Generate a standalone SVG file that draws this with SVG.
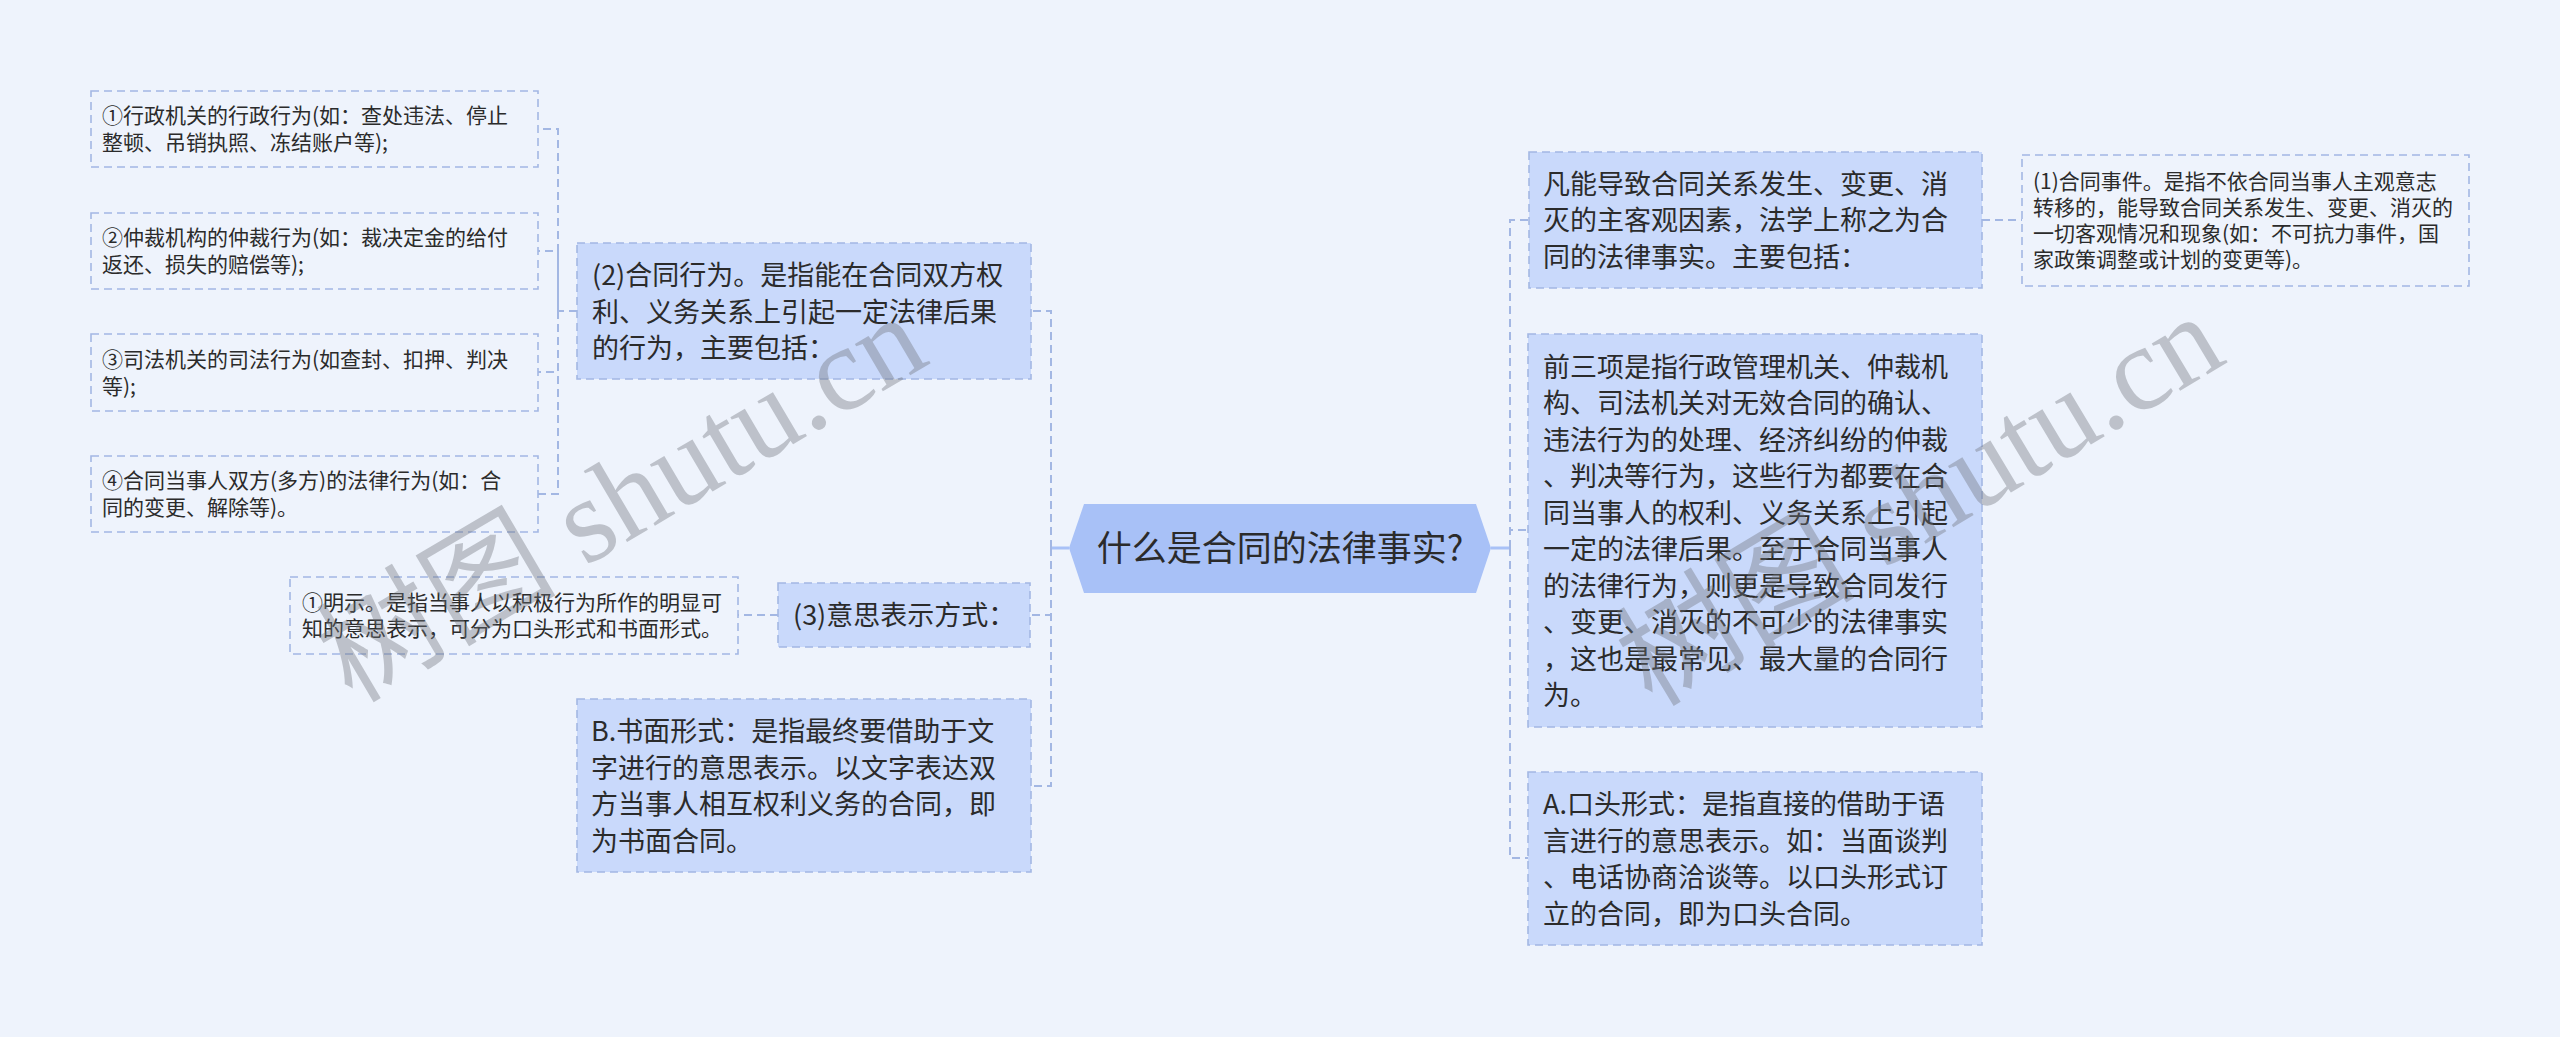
<svg xmlns="http://www.w3.org/2000/svg" width="2560" height="1037" viewBox="0 0 2560 1037">
<style>
.bg{fill:#eef3fc}
.box{fill:#c9d9fb;stroke:#a3b7e3;stroke-width:1.6;stroke-dasharray:8 5}
.leaf{fill:none;stroke:#a3b7e3;stroke-width:1.6;stroke-dasharray:8 5}
.con{fill:none;stroke:#a3b7e3;stroke-width:2;stroke-dasharray:8 5}
.solid{fill:none;stroke:#a8c1f7;stroke-width:3}
.t{font-family:"Noto Sans CJK SC","Noto Sans",sans-serif;fill:#2b2b2b}
.lg{font-size:27px}
.sm{font-size:21px}
.wm{font-family:"Liberation Serif","Noto Sans CJK SC",serif;font-size:120px;fill:#6e727a;opacity:0.38}
</style>
<rect class="bg" x="0" y="0" width="2560" height="1037"/>

<g id="connectors">
  <path class="solid" d="M1069 548 H1051"/>
  <path class="con" d="M1051 548 V311 H1031"/>
  <path class="con" d="M1051 548 V615 H1030"/>
  <path class="con" d="M1051 548 V786 H1031"/>
  <path class="con" d="M577 311 H558 V129 H538"/>
  <path class="con" d="M558 311 V251 H538"/>
  <path class="con" d="M558 311 V372 H538"/>
  <path class="con" d="M558 311 V494 H538"/>
  <path class="con" d="M778 615 H738"/>
  <path class="solid" d="M1491 548 H1510"/>
  <path class="con" d="M1510 548 V220 H1529"/>
  <path class="con" d="M1510 548 V530 H1528"/>
  <path class="con" d="M1510 548 V858 H1528"/>
  <path class="con" d="M1982 220 H2022"/>
</g>

<g id="root">
  <polygon points="1069,548 1084,504 1476,504 1491,548 1476,593 1084,593" fill="#a8c1f7"/>
  <text class="t" x="1280" y="561" font-size="35" text-anchor="middle">什么是合同的法律事实?</text>
</g>

<g id="n-hetong-xingwei">
  <rect class="box" x="577" y="243" width="454" height="136"/>
  <text class="t lg" x="592" y="285">(2)合同行为。是指能在合同双方权</text>
  <text class="t lg" x="592" y="321.5">利、义务关系上引起一定法律后果</text>
  <text class="t lg" x="592" y="358">的行为，主要包括：</text>
</g>

<g id="n-xingzheng">
  <rect class="leaf" x="91" y="91" width="447" height="76"/>
  <text class="t sm" x="102" y="123">①行政机关的行政行为(如：查处违法、停止</text>
  <text class="t sm" x="102" y="150">整顿、吊销执照、冻结账户等);</text>
</g>
<g id="n-zhongcai">
  <rect class="leaf" x="91" y="213" width="447" height="76"/>
  <text class="t sm" x="102" y="245">②仲裁机构的仲裁行为(如：裁决定金的给付</text>
  <text class="t sm" x="102" y="272">返还、损失的赔偿等);</text>
</g>
<g id="n-sifa">
  <rect class="leaf" x="91" y="334" width="447" height="77"/>
  <text class="t sm" x="102" y="366.5">③司法机关的司法行为(如查封、扣押、判决</text>
  <text class="t sm" x="102" y="393.5">等);</text>
</g>
<g id="n-dangshiren">
  <rect class="leaf" x="91" y="456" width="447" height="76"/>
  <text class="t sm" x="102" y="488">④合同当事人双方(多方)的法律行为(如：合</text>
  <text class="t sm" x="102" y="515">同的变更、解除等)。</text>
</g>

<g id="n-yisi">
  <rect class="box" x="778" y="583" width="252" height="64"/>
  <text class="t lg" x="793" y="625">(3)意思表示方式：</text>
</g>
<g id="n-mingshi">
  <rect class="leaf" x="290" y="577" width="448" height="77"/>
  <text class="t sm" x="302" y="610">①明示。是指当事人以积极行为所作的明显可</text>
  <text class="t sm" x="302" y="636">知的意思表示，可分为口头形式和书面形式。</text>
</g>

<g id="n-shumian">
  <rect class="box" x="577" y="699" width="454" height="173"/>
  <text class="t lg" x="591" y="741">B.书面形式：是指最终要借助于文</text>
  <text class="t lg" x="591" y="777.5">字进行的意思表示。以文字表达双</text>
  <text class="t lg" x="591" y="814">方当事人相互权利义务的合同，即</text>
  <text class="t lg" x="591" y="850.5">为书面合同。</text>
</g>

<g id="n-fanneng">
  <rect class="box" x="1529" y="152" width="453" height="136"/>
  <text class="t lg" x="1543" y="193.5">凡能导致合同关系发生、变更、消</text>
  <text class="t lg" x="1543" y="230">灭的主客观因素，法学上称之为合</text>
  <text class="t lg" x="1543" y="266.5">同的法律事实。主要包括：</text>
</g>
<g id="n-shijian">
  <rect class="leaf" x="2022" y="155" width="447" height="131"/>
  <text class="t sm" x="2033" y="189">(1)合同事件。是指不依合同当事人主观意志</text>
  <text class="t sm" x="2033" y="215">转移的，能导致合同关系发生、变更、消灭的</text>
  <text class="t sm" x="2033" y="241">一切客观情况和现象(如：不可抗力事件，国</text>
  <text class="t sm" x="2033" y="267">家政策调整或计划的变更等)。</text>
</g>

<g id="n-qiansanxiang">
  <rect class="box" x="1528" y="334" width="454" height="393"/>
  <text class="t lg" x="1543" y="376.5">前三项是指行政管理机关、仲裁机</text>
  <text class="t lg" x="1543" y="413">构、司法机关对无效合同的确认、</text>
  <text class="t lg" x="1543" y="449.5">违法行为的处理、经济纠纷的仲裁</text>
  <text class="t lg" x="1543" y="486">、判决等行为，这些行为都要在合</text>
  <text class="t lg" x="1543" y="522.5">同当事人的权利、义务关系上引起</text>
  <text class="t lg" x="1543" y="559">一定的法律后果。至于合同当事人</text>
  <text class="t lg" x="1543" y="595.5">的法律行为，则更是导致合同发行</text>
  <text class="t lg" x="1543" y="632">、变更、消灭的不可少的法律事实</text>
  <text class="t lg" x="1543" y="668.5">，这也是最常见、最大量的合同行</text>
  <text class="t lg" x="1543" y="705">为。</text>
</g>

<g id="n-koutou">
  <rect class="box" x="1528" y="772" width="454" height="173"/>
  <text class="t lg" x="1543" y="814">A.口头形式：是指直接的借助于语</text>
  <text class="t lg" x="1543" y="850.5">言进行的意思表示。如：当面谈判</text>
  <text class="t lg" x="1543" y="887">、电话协商洽谈等。以口头形式订</text>
  <text class="t lg" x="1543" y="923.5">立的合同，即为口头合同。</text>
</g>

<g id="watermarks">
  <text class="wm" transform="translate(352,704) rotate(-30.5)">树图 shutu.cn</text>
  <text class="wm" transform="translate(1652,708) rotate(-31)">树图 shutu.cn</text>
</g>
</svg>
